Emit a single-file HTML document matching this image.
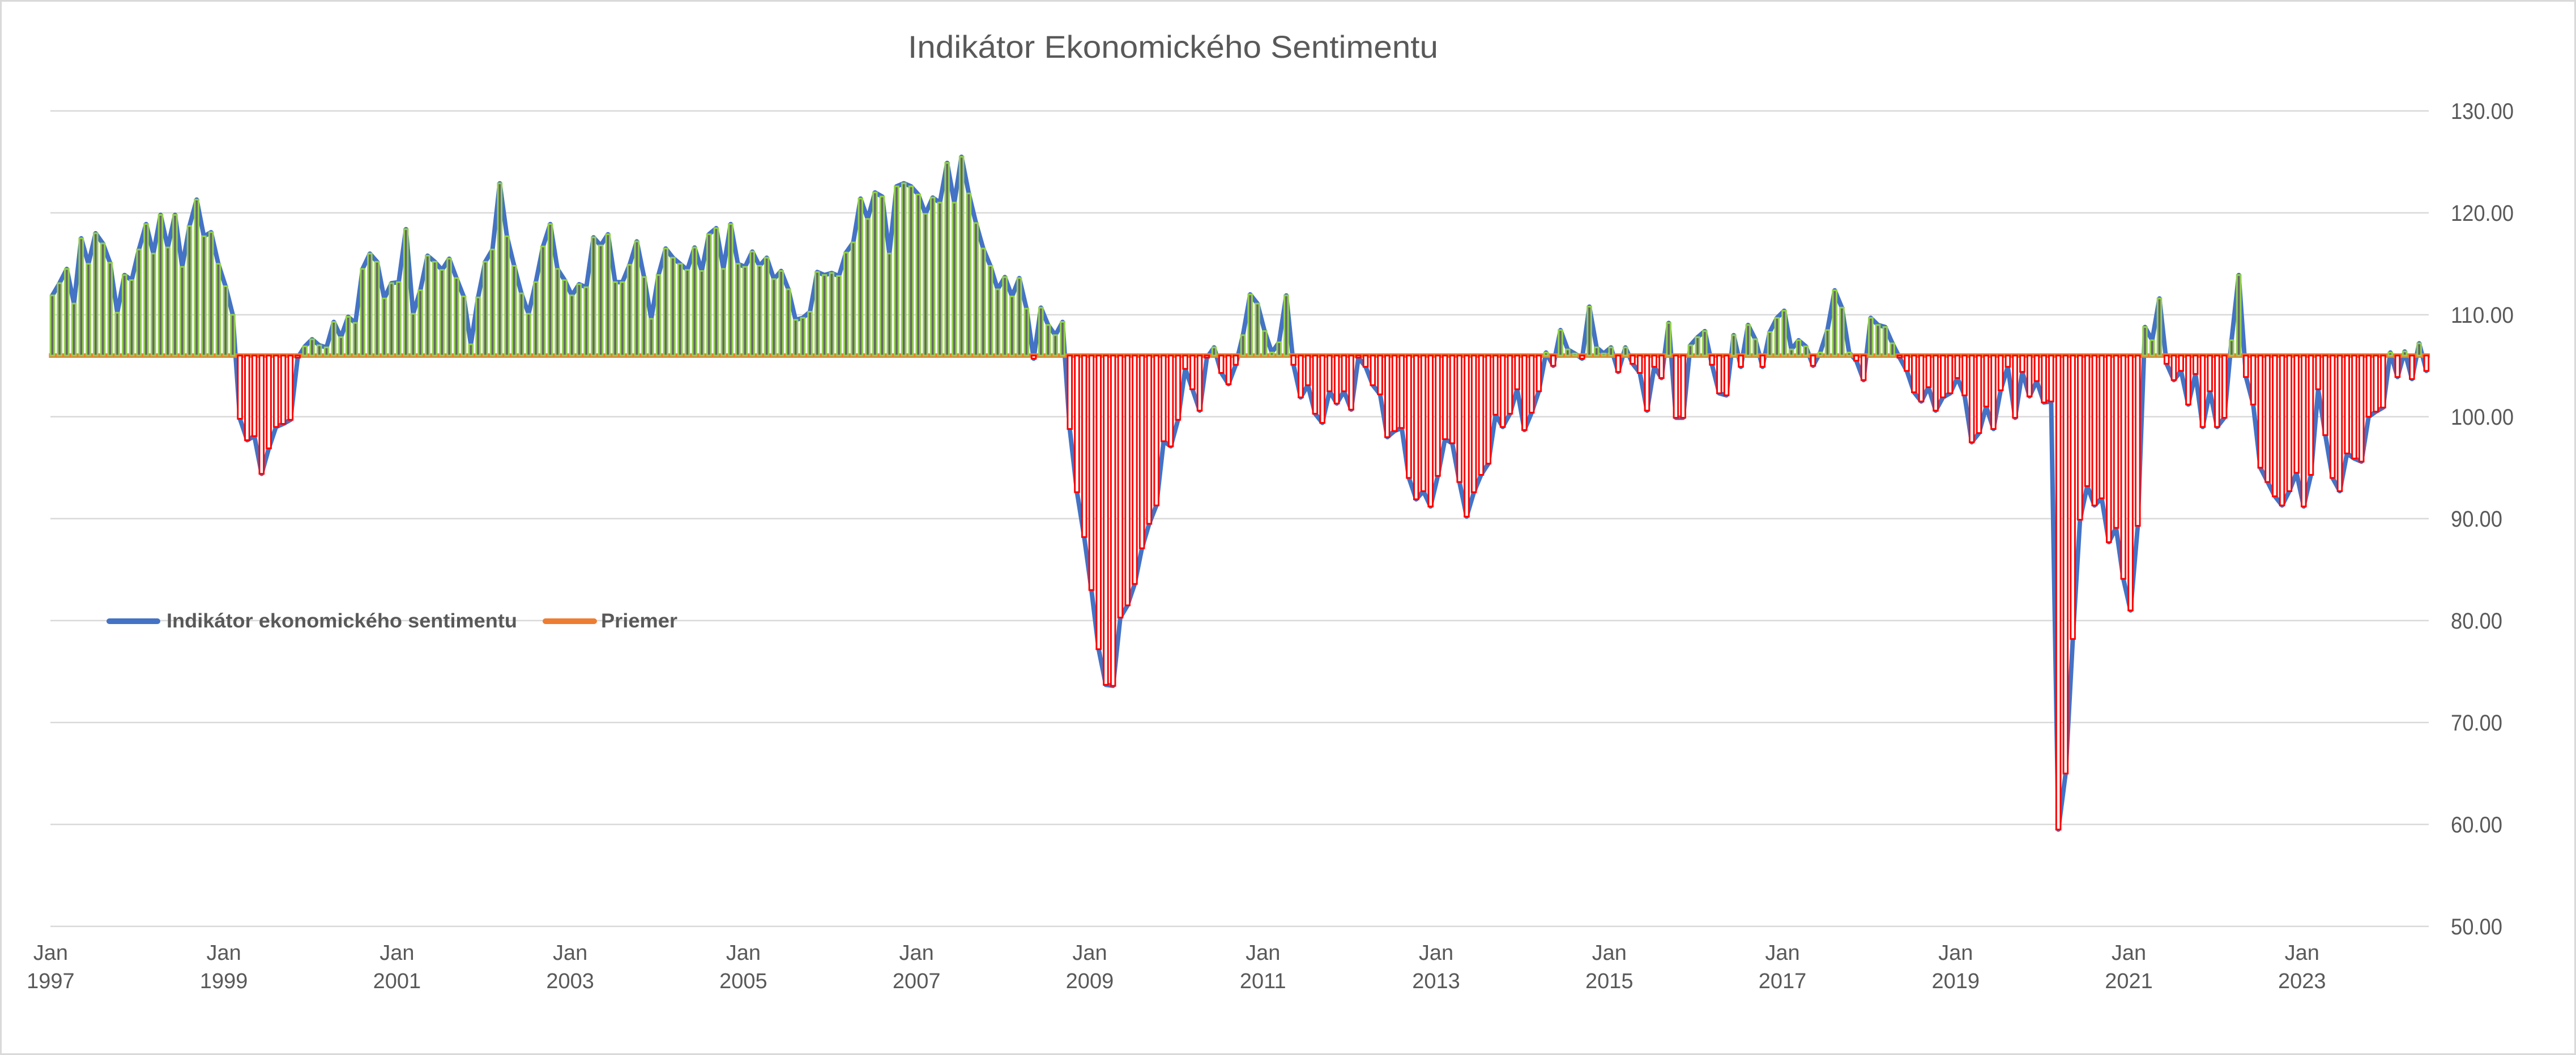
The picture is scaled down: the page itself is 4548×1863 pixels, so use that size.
<!DOCTYPE html>
<html><head><meta charset="utf-8"><title>Indikátor Ekonomického Sentimentu</title>
<style>html,body{margin:0;padding:0;background:#fff;}svg{display:block;}</style>
</head><body>
<svg id="chart" xmlns="http://www.w3.org/2000/svg" width="4548" height="1863" viewBox="0 0 4548 1863">
<rect x="1.5" y="1.5" width="4545" height="1860" fill="#fff" stroke="#d9d9d9" stroke-width="3"/>
<text x="1603" y="102" font-family="'Liberation Sans Narrow','Liberation Sans',sans-serif" font-size="56" fill="#595959" textLength="936" lengthAdjust="spacingAndGlyphs">Indikátor Ekonomického Sentimentu</text>
<g id="grid"></g>
<g id="series"></g>
<g id="axes"></g>
<g>
  <line x1="193" y1="1097" x2="278" y2="1097" stroke="#4472C4" stroke-width="10" stroke-linecap="round"/>
  <text x="294" y="1108" font-family="'Liberation Sans Narrow','Liberation Sans',sans-serif" font-weight="bold" font-size="35" fill="#595959" textLength="619" lengthAdjust="spacingAndGlyphs">Indikátor ekonomického sentimentu</text>
  <line x1="963" y1="1097" x2="1049" y2="1097" stroke="#ED7D31" stroke-width="10" stroke-linecap="round"/>
  <text x="1061" y="1108" font-family="'Liberation Sans Narrow','Liberation Sans',sans-serif" font-weight="bold" font-size="35" fill="#595959" textLength="135" lengthAdjust="spacingAndGlyphs">Priemer</text>
</g>
</svg>
<script>
const startYear = 1997;
const esiValues = [
111.9,113.1,114.5,111.1,117.5,115.0,118.0,117.0,115.1,110.2,113.9,113.4,116.4,118.9,116.0,119.8,116.6,119.8,114.7,118.7,121.3,117.7,118.1,115.0,112.8,110.0,
99.8,97.7,98.1,94.4,96.9,99.0,99.3,99.7,
105.8,106.9,107.6,107.0,106.8,109.3,107.8,109.8,109.2,114.5,116.0,115.2,111.6,113.1,113.2,
118.4,110.1,112.4,115.8,115.2,114.4,115.5,113.6,111.8,107.1,111.7,115.2,116.4,122.9,117.7,114.8,112.1,110.1,113.2,116.7,118.9,114.5,113.4,111.9,113.0,112.7,117.6,116.8,117.9,113.2,113.2,114.9,117.2,113.7,109.6,113.9,116.5,115.6,115.0,114.4,116.6,114.3,117.9,118.5,114.5,118.9,115.0,114.7,116.2,114.8,
115.6,113.5,114.3,112.5,109.5,109.7,110.3,114.2,113.9,114.1,113.8,116.1,117.1,121.4,119.4,122.0,121.6,116.0,122.6,122.9,122.6,121.8,119.9,121.5,121.0,124.9,121.0,125.5,121.9,119.0,116.5,114.8,112.5,113.7,111.8,113.6,110.6,105.7,110.7,109.0,108.0,109.3,98.8,92.6,
88.2,83.0,77.2,73.7,73.6,80.3,81.5,83.6,87.1,89.5,91.3,97.6,97.1,99.7,104.7,102.7,100.6,105.8,106.8,104.3,103.2,105.1,108.0,112.0,111.1,108.4,106.3,107.3,111.9,105.1,101.9,103.1,100.3,99.4,102.5,101.3,102.5,100.7,105.8,104.9,103.1,102.2,98.0,
98.6,98.9,94.0,91.9,92.7,91.2,94.2,97.8,97.4,93.6,90.2,92.6,94.3,95.4,100.2,99.0,100.3,102.7,98.7,100.4,102.5,106.3,105.0,108.5,106.6,106.2,105.7,110.8,106.8,106.2,106.8,104.4,106.8,105.2,104.3,100.6,104.9,103.8,109.2,
99.9,99.9,107.0,107.8,108.4,105.1,102.3,102.1,108.0,104.9,109.0,107.6,104.9,108.3,109.7,110.4,106.6,107.5,106.9,105.0,106.3,108.5,112.4,110.7,106.3,105.5,103.6,109.7,109.0,108.8,107.2,105.8,104.5,102.4,101.5,102.9,100.6,101.9,102.3,103.8,
102.1,97.5,98.4,101.0,98.8,102.6,104.9,99.9,104.4,102.0,103.5,101.4,101.5,59.5,65.0,78.2,89.9,93.2,91.3,92.0,87.7,89.1,84.1,81.0,89.3,108.8,107.5,111.6,105.2,103.6,104.5,101.2,104.2,99.0,102.5,99.0,99.9,107.5,113.9,
103.9,101.2,95.0,93.6,92.2,91.3,92.7,94.5,91.2,94.3,102.7,98.2,94.0,92.7,96.4,95.9,95.6,100.0,100.5,100.9,106.3,103.9,106.4,103.7,107.2,104.5
];
const averageValue = 106.0;
const yTicks = [130, 120, 110, 100, 90, 80, 70, 60, 50];
const xTickYears = [1997,1999,2001,2003,2005,2007,2009,2011,2013,2015,2017,2019,2021,2023];

const NS = 'http://www.w3.org/2000/svg';
const plotLeft = 86, band = 12.74, gridLeft = 89, gridRight = 4288;
const yTop = 195.9, yMax = 130, pxPerUnit = 18;
function xPos(i){ return plotLeft + 6.4 + band * i; }
function yPos(v){ return yTop + (yMax - v) * pxPerUnit; }
function mk(tag, attrs){ const e = document.createElementNS(NS, tag); for (const k in attrs) e.setAttribute(k, attrs[k]); return e; }
const FONT = "'Liberation Sans Narrow','Liberation Sans',sans-serif";

const grid = document.getElementById('grid');
const axes = document.getElementById('axes');
yTicks.forEach(function(t){
  const gl = mk('line', {x1: gridLeft, x2: gridRight, y1: yPos(t), y2: yPos(t), stroke: '#d9d9d9', 'stroke-width': 2.5});
  
  
  grid.appendChild(gl);
  const lbl = t.toFixed(2);
  const tx = mk('text', {x: 4327, y: yPos(t) + 14, 'font-family': FONT, 'font-size': 40, fill: '#595959', textLength: lbl.length === 6 ? 111 : 91, lengthAdjust: 'spacingAndGlyphs'});
  
  
  tx.textContent = lbl;
  axes.appendChild(tx);
});
xTickYears.forEach(function(yr){
  const idx = (yr - startYear) * 12;
  const cx = xPos(idx) - 3;
  const t1 = mk('text', {x: cx, y: 1695, 'text-anchor': 'middle', 'font-family': FONT, 'font-size': 38, fill: '#595959'});
  
  
  t1.textContent = 'Jan';
  axes.appendChild(t1);
  const t2 = mk('text', {x: cx, y: 1745, 'text-anchor': 'middle', 'font-family': FONT, 'font-size': 38, fill: '#595959'});
  
  
  t2.textContent = String(yr);
  axes.appendChild(t2);
});

const series = document.getElementById('series');
let d = '';
esiValues.forEach(function(v, i){ d += (i ? 'L' : 'M') + xPos(i).toFixed(1) + ' ' + yPos(v).toFixed(1); });
const esiLine = mk('path', {d: d, fill: 'none', stroke: '#4472C4', 'stroke-width': 8, 'stroke-linejoin': 'round', 'stroke-linecap': 'round'});


series.appendChild(esiLine);
const avgLine = mk('line', {x1: xPos(0) - 6, x2: xPos(esiValues.length - 1) + 6, y1: yPos(averageValue), y2: yPos(averageValue), stroke: '#ED7D31', 'stroke-width': 8});


series.appendChild(avgLine);
const y0 = yPos(averageValue);
esiValues.forEach(function(v, i){
  const yv = yPos(v);
  const top = Math.min(y0, yv), h = Math.max(Math.abs(yv - y0), 1.5);
  const above = v >= averageValue;
  const w = above ? 6.6 : 7.6;
  const r = mk('rect', {x: xPos(i) - w / 2, y: top, width: w, height: h,
    fill: above ? '#666666' : '#ffffff', stroke: above ? '#92D050' : '#FF0000', 'stroke-width': 3});
  
  
  series.appendChild(r);
});
</script>
</body></html>
